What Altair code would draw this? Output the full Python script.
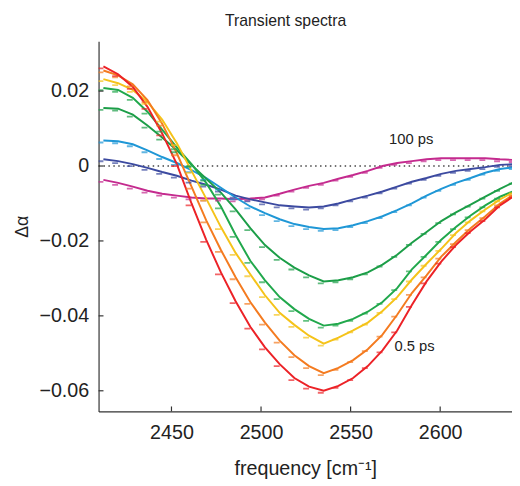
import altair as alt
import pandas as pd

freq = [2412.0, 2420.2, 2428.4, 2436.6, 2444.8, 2453.0, 2461.2, 2469.4, 2477.6, 2485.8,
        2494.0, 2502.2, 2510.4, 2518.6, 2526.8, 2535.0, 2543.2, 2551.4, 2559.6, 2567.8,
        2576.0, 2584.2, 2592.4, 2600.6, 2608.8, 2617.0, 2625.2, 2633.4, 2641.6]

red = [0.0266, 0.0245, 0.0211, 0.0158, 0.0087, 0.0005, -0.0100, -0.0197, -0.0284, -0.0361,
       -0.0429, -0.0484, -0.0529, -0.0566, -0.0589, -0.0600, -0.0587, -0.0566, -0.0534, -0.0492,
       -0.0439, -0.0371, -0.0308, -0.0255, -0.0211, -0.0174, -0.0142, -0.0105, -0.0079]
orange = [0.0255, 0.0242, 0.0218, 0.0176, 0.0113, 0.0034, -0.0055, -0.0145, -0.0224, -0.0297,
          -0.0363, -0.0418, -0.0466, -0.0505, -0.0534, -0.0553, -0.0539, -0.0518, -0.0489, -0.0450,
          -0.0397, -0.0339, -0.0292, -0.0242, -0.0203, -0.0166, -0.0134, -0.0100, -0.0074]
yellow = [0.0232, 0.0221, 0.0203, 0.0171, 0.0124, 0.0061, -0.0013, -0.0087, -0.0163, -0.0232,
          -0.0289, -0.0345, -0.0392, -0.0424, -0.0453, -0.0474, -0.0458, -0.0439, -0.0418, -0.0387,
          -0.0350, -0.0303, -0.0261, -0.0221, -0.0179, -0.0145, -0.0116, -0.0089, -0.0068]
green_a = [0.0208, 0.0203, 0.0182, 0.0145, 0.0097, 0.0050, 0.0005, -0.0045, -0.0108, -0.0184,
           -0.0253, -0.0305, -0.0350, -0.0382, -0.0408, -0.0426, -0.0421, -0.0408, -0.0389, -0.0363,
           -0.0326, -0.0276, -0.0237, -0.0197, -0.0163, -0.0132, -0.0105, -0.0082, -0.0066]
green_b = [0.0155, 0.0153, 0.0137, 0.0108, 0.0076, 0.0042, 0.0003, -0.0034, -0.0071, -0.0116,
           -0.0166, -0.0211, -0.0245, -0.0271, -0.0292, -0.0308, -0.0305, -0.0297, -0.0284, -0.0263,
           -0.0237, -0.0205, -0.0176, -0.0147, -0.0124, -0.0103, -0.0082, -0.0061, -0.0042]
light_blue = [0.0068, 0.0066, 0.0058, 0.0042, 0.0024, 0.0008, -0.0011, -0.0032, -0.0058, -0.0084,
              -0.0108, -0.0126, -0.0142, -0.0155, -0.0163, -0.0168, -0.0166, -0.0158, -0.0147, -0.0134,
              -0.0118, -0.0100, -0.0079, -0.0061, -0.0045, -0.0032, -0.0018, -0.0008, -0.0003]
dark_blue = [0.0018, 0.0013, 0.0005, -0.0005, -0.0016, -0.0026, -0.0039, -0.0050, -0.0063, -0.0079,
             -0.0089, -0.0097, -0.0105, -0.0108, -0.0111, -0.0108, -0.0100, -0.0089, -0.0079, -0.0068,
             -0.0055, -0.0042, -0.0032, -0.0021, -0.0013, -0.0008, -0.0003, 0.0003, 0.0005]
magenta = [-0.0037, -0.0045, -0.0055, -0.0066, -0.0074, -0.0079, -0.0084, -0.0087, -0.0087, -0.0089,
           -0.0087, -0.0084, -0.0074, -0.0063, -0.0053, -0.0045, -0.0034, -0.0024, -0.0013, 0.0000,
           0.0008, 0.0013, 0.0018, 0.0021, 0.0021, 0.0021, 0.0021, 0.0018, 0.0016]

series_names = ["s8", "s7", "s6", "s5", "s4", "s3", "s2", "s1"]
series_values = [magenta, dark_blue, light_blue, green_b, green_a, yellow, orange, red]
series_colors = ["#c42a8e", "#3c4aa0", "#1f97d6", "#1c9e48", "#21a84c", "#f5c31a", "#f47b20", "#ec2227"]

x_ticks = [2450, 2500, 2550, 2600]
y_ticks = [-0.06, -0.04, -0.02, 0, 0.02]

note_text = ["100 ps", "0.5 ps"]
note_x = [2571.5, 2574.5]
note_y = [0.0073, -0.0480]

rows = []
for name, vals in zip(series_names, series_values):
    for f, v in zip(freq, vals):
        rows.append({"freq": f, "val": v, "series": name})
df = pd.DataFrame(rows)

FONT = "Liberation Sans"
xscale = alt.Scale(domain=[2409.3, 2640.1], nice=False, zero=False)
yscale = alt.Scale(domain=[-0.0655, 0.0333], nice=False, zero=False)
color = alt.Color("series:N", scale=alt.Scale(domain=series_names, range=series_colors), legend=None)

xaxis = alt.Axis(values=x_ticks, format="d", ticks=False, grid=False, labelFontSize=20, labelFont=FONT,
                 labelColor="#222", labelPadding=12, domainColor="#333", domainWidth=1.2,
                 title="frequency [cm⁻¹]", titleFont=FONT, titleFontSize=20, titleFontWeight="normal",
                 titleColor="#222", titlePadding=16)
yaxis = alt.Axis(values=y_ticks, ticks=False, grid=False, labelFontSize=20, labelFont=FONT,
                 labelColor="#222", labelPadding=10, domainColor="#333", domainWidth=1.2,
                 labelExpr="datum.value == 0 ? '0' : format(datum.value, '.2f')",
                 title="Δα", titleFont=FONT, titleFontSize=18, titleFontWeight="normal",
                 titleColor="#222", titlePadding=8)

base = alt.Chart(df)

lines = base.mark_line(strokeWidth=2, clip=True).encode(
    x=alt.X("freq:Q", scale=xscale, axis=xaxis),
    y=alt.Y("val:Q", scale=yscale, axis=yaxis),
    color=color,
    detail="series:N",
)

ticks = base.mark_tick(orient="horizontal", size=6, thickness=1.8, xOffset=-3, yOffset=2, clip=True).encode(
    x=alt.X("freq:Q", scale=xscale),
    y=alt.Y("val:Q", scale=yscale),
    color=color,
)

zero = alt.Chart(pd.DataFrame({"z": [0]})).mark_rule(
    color="#444", strokeWidth=1.3, strokeDash=[1.5, 3.5]
).encode(y=alt.Y("z:Q", scale=yscale), x=alt.value(0), x2=alt.value(420))

ytick_marks = alt.Chart(pd.DataFrame({"t": y_ticks})).mark_rule(color="#333", strokeWidth=1.2).encode(
    y=alt.Y("t:Q", scale=yscale), x=alt.value(0), x2=alt.value(5))
xtick_marks = alt.Chart(pd.DataFrame({"t": x_ticks})).mark_rule(color="#333", strokeWidth=1.2).encode(
    x=alt.X("t:Q", scale=xscale), y=alt.value(376), y2=alt.value(371))

notes = alt.Chart(pd.DataFrame({"txt": note_text, "x": note_x, "y": note_y})).mark_text(
    align="left", baseline="middle", fontSize=15, font=FONT, color="#222"
).encode(x=alt.X("x:Q", scale=xscale), y=alt.Y("y:Q", scale=yscale), text="txt:N")

chart = alt.layer(zero, lines, ticks, ytick_marks, xtick_marks, notes).properties(
    width=420, height=376,
    title=alt.TitleParams("Transient spectra", fontSize=16, fontWeight="normal", font=FONT,
                          color="#222", offset=13, dx=-20),
    autosize=alt.AutoSizeParams(type="none"),
    padding={"left": 92, "top": 30, "right": 0, "bottom": 72},
).configure_view(stroke=None)

chart.save("out.html", embed_options={"renderer": "svg", "actions": False})
